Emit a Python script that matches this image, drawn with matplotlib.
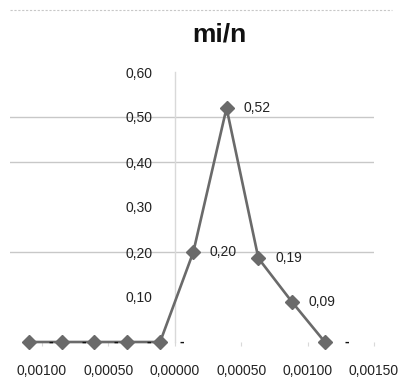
import matplotlib
matplotlib.use("Agg")
import matplotlib.pyplot as plt
from matplotlib.lines import Line2D

plt.rcParams['font.family'] = ['Liberation Sans', 'DejaVu Sans']

title = "mi/n"
x_values = [-0.00110, -0.00085, -0.00061, -0.00036, -0.00011,
            0.00014, 0.00039, 0.00063, 0.00088, 0.00113]
y_values = [0.0, 0.0, 0.0, 0.0, 0.0, 0.20, 0.52, 0.186, 0.09, 0.0]
x_ticks = [-0.0010, -0.0005, 0.0, 0.0005, 0.0010, 0.0015]
x_tick_labels = ["0,00100", "0,00050", "0,00000", "0,00050", "0,00100", "0,00150"]
y_ticks = [0.10, 0.20, 0.30, 0.40, 0.50, 0.60]
y_tick_labels = ["0,10", "0,20", "0,30", "0,40", "0,50", "0,60"]
grid_values = [0.20, 0.40, 0.50]

W, H = 398, 382
fig = plt.figure(figsize=(W / 100, H / 100), dpi=100)
ax = fig.add_axes([10 / W, 1 - 342 / H, (374 - 10) / W, (342 - 72) / H])
ax.set_xlim(-0.00124, 0.0015)
ax.set_ylim(0, 0.6)

grid_c = "#c8c8c8"
for g in grid_values:
    ax.axhline(g, color=grid_c, lw=1.0, zorder=1)

line_c = "#6a6a6a"
ax.plot(x_values, y_values, color=line_c, lw=1.9, marker='D', markersize=7,
        markerfacecolor=line_c, markeredgecolor=line_c, zorder=3, clip_on=False)

for xv, yv in zip(x_values, y_values):
    if yv > 0:
        lab = f"{yv:.2f}".replace('.', ',')
        ax.annotate(lab, (xv, yv), xytext=(12, 0), textcoords='offset points',
                    ha='left', va='center', fontsize=10, color="#222222", zorder=5)
    else:
        ax.annotate("-", (xv, yv), xytext=(14, 0), textcoords='offset points',
                    ha='left', va='center', fontsize=10, fontweight='bold',
                    color="#111111", zorder=5)

for s in ['top', 'right', 'bottom']:
    ax.spines[s].set_visible(False)
ax.spines['left'].set_position(('data', 0))
ax.spines['left'].set_color("#d9d9d9")
ax.spines['left'].set_linewidth(1.0)

ax.set_xticks(x_ticks)
ax.set_xticklabels(x_tick_labels, fontsize=10, color="#222222")
ax.tick_params(axis='x', length=3, color="#d9d9d9", pad=13)
ax.set_yticks(y_ticks)
ax.set_yticklabels(y_tick_labels, fontsize=10, color="#222222")
ax.tick_params(axis='y', length=0, pad=16)

fig.text(219 / W, 1 - 34 / H, title, ha='center', va='center',
         fontsize=19, fontweight='bold', color="#111111")

fig.add_artist(Line2D([10 / W, 392 / W], [1 - 9.5 / H, 1 - 9.5 / H],
                      transform=fig.transFigure, color="#c8c8c8",
                      lw=0.8, ls=(0, (2, 1.5))))

fig.savefig("out.png", dpi=100)
